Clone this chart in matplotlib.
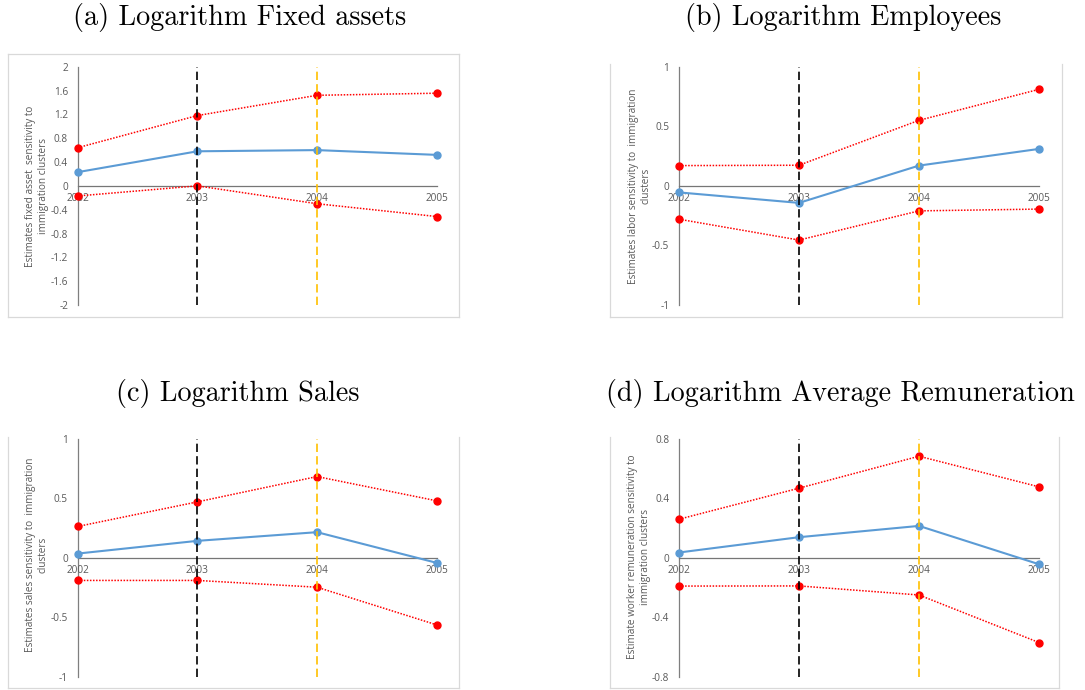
import matplotlib
matplotlib.use("Agg")
import matplotlib.pyplot as plt
from matplotlib.lines import Line2D

plt.rcParams['axes.unicode_minus'] = False

years = [2002, 2003, 2004, 2005]

titles = ["(a) Logarithm Fixed assets", "(b) Logarithm Employees",
          "(c) Logarithm Sales", "(d) Logarithm Average Remuneration"]
ylabels = ["Estimates fixed asset  sensitivity to\nimmigration clusters",
           "Estimates labor sensitivity to  immigration\nclusters",
           "Estimates sales sensitivity to  immigration\nclusters",
           "Estimate worker remuneration sensitivity to\nimmigration clusters"]

a_est = [0.23, 0.58, 0.60, 0.52]
a_up = [0.64, 1.18, 1.52, 1.555]
a_lo = [-0.17, 0.0, -0.30, -0.515]

b_est = [-0.055, -0.143, 0.17, 0.31]
b_up = [0.17, 0.173, 0.55, 0.81]
b_lo = [-0.28, -0.455, -0.21, -0.195]

c_est = [0.036, 0.143, 0.216, -0.042]
c_up = [0.264, 0.471, 0.684, 0.48]
c_lo = [-0.19, -0.19, -0.247, -0.564]

d_est = [0.036, 0.139, 0.215, -0.043]
d_up = [0.26, 0.469, 0.684, 0.478]
d_lo = [-0.19, -0.189, -0.25, -0.57]

a_ticks = [-2, -1.6, -1.2, -0.8, -0.4, 0, 0.4, 0.8, 1.2, 1.6, 2]
a_ticklabels = ["-2", "-1.6", "-1.2", "-0.8", "-0.4", "0", "0.4", "0.8", "1.2", "1.6", "2"]
b_ticks = [-1, -0.5, 0, 0.5, 1]
b_ticklabels = ["-1", "-0.5", "0", "0.5", "1"]
c_ticks = [-1, -0.5, 0, 0.5, 1]
c_ticklabels = ["-1", "-0.5", "0", "0.5", "1"]
d_ticks = [-0.8, -0.4, 0, 0.4, 0.8]
d_ticklabels = ["-0.8", "-0.4", "0", "0.4", "0.8"]
year_labels = ["2002", "2003", "2004", "2005"]

W, H = 1085, 690
fig = plt.figure(figsize=(W / 100, H / 100), dpi=100)
fig.patch.set_facecolor("white")

def fx(x):
    return x / W

def fy(y):
    return 1 - y / H

# panel geometry in pixels: axis x-left, x-right, y-top, y-bottom
panels = [
    dict(est=a_est, up=a_up, lo=a_lo, ticks=a_ticks, tl=a_ticklabels,
         ax=(77.7, 436.7, 66.7, 305), box=(8, 459, 54, 317, True),
         title_xy=(240, 18), ylab_xy=(37, 186)),
    dict(est=b_est, up=b_up, lo=b_lo, ticks=b_ticks, tl=b_ticklabels,
         ax=(679, 1039, 66.7, 305), box=(610, 1062, 64, 317, False),
         title_xy=(843, 18), ylab_xy=(640, 186)),
    dict(est=c_est, up=c_up, lo=c_lo, ticks=c_ticks, tl=c_ticklabels,
         ax=(77.7, 436.7, 439, 676.7), box=(8, 459, 437, 688, False),
         title_xy=(238, 393), ylab_xy=(37, 555)),
    dict(est=d_est, up=d_up, lo=d_lo, ticks=d_ticks, tl=d_ticklabels,
         ax=(679, 1039, 439, 676.7), box=(610, 1059, 437, 688, False),
         title_xy=(840, 393), ylab_xy=(639, 557)),
]

gray_txt = "#595959"
box_col = "#d9d9d9"
blue = "#5b9bd5"
red = "#ff0000"
orange = "#ffc000"

for p, title, ylab in zip(panels, titles, ylabels):
    x0, x1, yt, yb = p["ax"]
    ax = fig.add_axes([fx(x0), fy(yb), fx(x1) - fx(x0), fy(yt) - fy(yb)])
    ax.set_facecolor("none")
    ymin, ymax = p["ticks"][0], p["ticks"][-1]
    ax.set_xlim(2002, 2005)
    ax.set_ylim(ymin, ymax)

    ax.plot(years, p["up"], color=red, lw=1.1, ls=(0, (1, 1)), marker="o",
            ms=5, mec=red, mfc=red, clip_on=False, zorder=3)
    ax.plot(years, p["lo"], color=red, lw=1.1, ls=(0, (1, 1)), marker="o",
            ms=5, mec=red, mfc=red, clip_on=False, zorder=3)
    ax.plot(years, p["est"], color=blue, lw=1.5, ls="-", marker="o",
            ms=5, mec=blue, mfc=blue, clip_on=False, zorder=4)

    ax.vlines(2003, ymin, ymax, colors="black", lw=1.2, linestyles=(0, (5, 2.5)), zorder=5)
    ax.vlines(2004, ymin, ymax, colors=orange, lw=1.2, linestyles=(0, (5, 2.5)), zorder=5)

    for s in ["top", "right"]:
        ax.spines[s].set_visible(False)
    ax.spines["bottom"].set_position(("data", 0))
    ax.spines["bottom"].set_color("#767676")
    ax.spines["bottom"].set_linewidth(0.9)
    ax.spines["left"].set_color("#7f7f7f")
    ax.spines["left"].set_linewidth(0.9)
    ax.spines["bottom"].set_zorder(1)
    ax.spines["left"].set_zorder(1)

    ax.set_xticks(years)
    ax.set_xticklabels(year_labels, fontsize=7.2, color=gray_txt, family="Open Sans")
    ax.set_yticks(p["ticks"])
    ax.set_yticklabels(p["tl"], fontsize=7.2, color=gray_txt, family="Open Sans")
    ax.tick_params(axis="x", length=0, pad=5)
    ax.tick_params(axis="y", length=0, pad=7)

    fig.text(fx(p["title_xy"][0]), fy(p["title_xy"][1]), title, family="cmr10",
             fontsize=20.3, ha="center", va="center", color="black")
    fig.text(fx(p["ylab_xy"][0]), fy(p["ylab_xy"][1]), ylab, family="Open Sans",
             fontsize=7.2, rotation=90, ha="center", va="center",
             multialignment="center", color=gray_txt, linespacing=1.15)

    bx0, bx1, by0, by1, top = p["box"]
    kw = dict(color=box_col, lw=0.9, transform=fig.transFigure)
    fig.add_artist(Line2D([fx(bx0), fx(bx0)], [fy(by0), fy(by1)], **kw))
    fig.add_artist(Line2D([fx(bx1), fx(bx1)], [fy(by0), fy(by1)], **kw))
    fig.add_artist(Line2D([fx(bx0), fx(bx1)], [fy(by1), fy(by1)], **kw))
    if top:
        fig.add_artist(Line2D([fx(bx0), fx(bx1)], [fy(by0), fy(by0)], **kw))

fig.savefig("out.png", dpi=100)
